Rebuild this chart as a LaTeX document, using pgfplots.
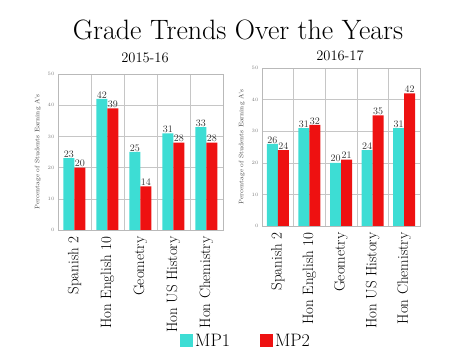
\documentclass[border=0pt]{standalone}
\usepackage{pgfplots}
\pgfplotsset{compat=1.18}
\definecolor{mpA}{HTML}{3DDDD4}
\definecolor{mpB}{HTML}{EE1111}
\pgfplotsset{
 common/.style={
  scale only axis, ybar=0pt, bar width=11pt,
  xmin=-0.5, xmax=4.5, ymin=0, ymax=50, ytick={0,10,...,50},
  xtick={0,...,4},
  xticklabels={Spanish 2, Hon English 10, Geometry, Hon US History, Hon Chemistry},
  xticklabel style={rotate=90, anchor=east, font=\fontsize{15}{16}\selectfont, inner sep=2pt},
  minor xtick={0.5,1.5,2.5,3.5}, xminorgrids, ymajorgrids,
  minor grid style={gray!45}, major grid style={gray!45},
  axis line style={gray!55}, tick style={draw=none},
  yticklabel style={font=\fontsize{5}{6}\selectfont, text=gray},
  ylabel={Percentage of Students Earning A's},
  ylabel style={font=\fontsize{6.5}{7}\selectfont, text=black!75},
  nodes near coords,
  every node near coord/.append style={font=\fontsize{10}{11}\selectfont, inner sep=0.6pt, text=black!80},
  legend image code/.code={\fill[##1] (0pt,-5pt) rectangle (13pt,8pt);},
 }
}
\begin{document}
\begin{tikzpicture}[x=1pt,y=1pt]
\path (0,0) rectangle (475,356);
\node at (238,326) {\fontsize{28}{32}\selectfont Grade Trends Over the Years};
\node at (145,298) {\fontsize{14.5}{16}\selectfont 2015-16};
\node at (340,300) {\fontsize{14.5}{16}\selectfont 2016-17};
\begin{axis}[common, at={(58pt,126pt)}, anchor=south west, width=165pt, height=156pt,
  legend style={at={(axis description cs:1.14,-0.715)}, anchor=center, draw=none, fill=none,
    legend columns=2, font=\fontsize{18}{20}\selectfont,
    /tikz/every even column/.append style={column sep=28pt}}]
\addplot[fill=mpA, draw=none] coordinates {(0,23) (1,42) (2,25) (3,31) (4,33)};
\addplot[fill=mpB, draw=none] coordinates {(0,20) (1,39) (2,14) (3,28) (4,28)};
\legend{MP1, MP2}
\end{axis}
\begin{axis}[common, at={(262pt,130pt)}, anchor=south west, width=158pt, height=158pt]
\addplot[fill=mpA, draw=none] coordinates {(0,26) (1,31) (2,20) (3,24) (4,31)};
\addplot[fill=mpB, draw=none] coordinates {(0,24) (1,32) (2,21) (3,35) (4,42)};
\end{axis}
\end{tikzpicture}
\end{document}
